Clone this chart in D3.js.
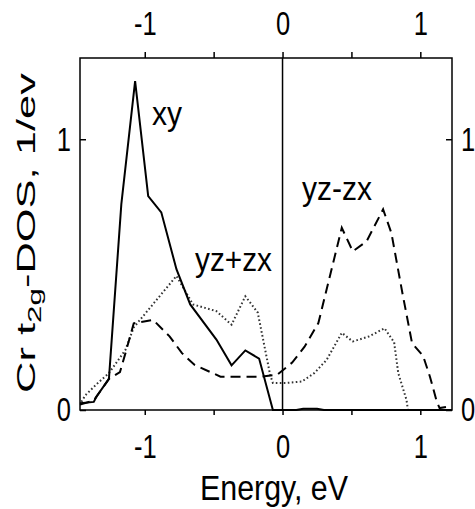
<!DOCTYPE html>
<html>
<head>
<meta charset="utf-8">
<script src="https://cdn.jsdelivr.net/npm/d3@7"></script>
<style>
	body { margin: 0; background: #fff; }
	text { font-family: 'Liberation Sans', Arial, sans-serif; fill: #000; }
</style>
</head>
<body>
<script>
// Chart size
const width = 475
const height = 509

// xy (solid)
const xyEnergy = [-1.47, -1.37, -1.35, -1.26, -1.17, -1.07, -0.975, -0.88, -0.77, -0.67, -0.48, -0.37, -0.27, -0.17, -0.07, 0.1, 0.15, 0.25, 0.3, 1.23]
const xyDos = [0.025, 0.03, 0.05, 0.115, 0.76, 1.215, 0.79, 0.73, 0.52, 0.39, 0.26, 0.165, 0.22, 0.19, 0, 0, 0.005, 0.005, 0, 0]

// yz+zx (dotted)
const plusEnergy = [-1.46, -1.43, -1.34, -1.26, -1.14, -1.08, -0.77, -0.65, -0.48, -0.37, -0.27, -0.18, -0.09, -0.07, 0.03, 0.14, 0.23, 0.32, 0.43, 0.51, 0.63, 0.74, 0.81, 0.84, 0.9, 0.91, 1.15]
const plusDos = [0.03, 0.055, 0.1, 0.136, 0.222, 0.305, 0.495, 0.39, 0.365, 0.315, 0.42, 0.36, 0.13, 0.1, 0.1, 0.105, 0.136, 0.185, 0.285, 0.253, 0.272, 0.302, 0.25, 0.136, 0.037, 0, 0]

// yz-zx (dashed)
const minusEnergy = [-1.47, -1.37, -1.26, -1.18, -1.14, -1.08, -0.94, -0.82, -0.73, -0.64, -0.45, -0.16, -0.04, 0.07, 0.16, 0.26, 0.43, 0.51, 0.61, 0.73, 0.79, 0.87, 0.94, 1.02, 1.07, 1.12, 1.14, 1.2, 1.23]
const minusDos = [0.02, 0.035, 0.115, 0.14, 0.21, 0.32, 0.333, 0.272, 0.21, 0.167, 0.123, 0.123, 0.13, 0.175, 0.234, 0.321, 0.673, 0.586, 0.623, 0.741, 0.654, 0.432, 0.247, 0.2, 0.123, 0.03, 0.007, 0.012, 0.012]

// Ticks
const xTicks = [-1, -0.5, 0, 0.5, 1]
const yTicks = [0, 1]

const svg = d3.select('body').append('svg').attr('width', width).attr('height', height)

const x = d3.scaleLinear().domain([-1.47, 1.23]).range([80, 452])
const y = d3.scaleLinear().domain([0, 1.3]).range([410, 58])

const fmt = d => (d % 1 === 0 ? String(d) : '')

// Axes
function styleAxis(g) {
	g.select('.domain').remove()
	g.selectAll('line').attr('stroke', '#000').attr('stroke-width', 1.5)
	g.selectAll('text')
		.attr('font-size', 34)
		.attr('font-family', "'Liberation Sans', Arial, sans-serif")
		.attr('transform', 'scale(0.75,1)')
}

svg.append('g')
	.attr('transform', 'translate(0,410)')
	.call(d3.axisBottom(x).tickValues(xTicks).tickFormat(fmt).tickSize(5).tickPadding(19))
	.call(styleAxis)

svg.append('g')
	.attr('transform', 'translate(0,58)')
	.call(d3.axisTop(x).tickValues(xTicks).tickFormat(fmt).tickSize(6).tickPadding(17))
	.call(styleAxis)

svg.append('g')
	.attr('transform', 'translate(80,0)')
	.call(d3.axisLeft(y).tickValues(yTicks).tickFormat(fmt).tickSize(-6).tickPadding(12))
	.call(styleAxis)

svg.append('g')
	.attr('transform', 'translate(452,0)')
	.call(d3.axisRight(y).tickValues(yTicks).tickFormat(fmt).tickSize(-6).tickPadding(12))
	.call(styleAxis)

// Frame and zero line
svg.append('rect')
	.attr('x', x.range()[0])
	.attr('y', y.range()[1])
	.attr('width', x.range()[1] - x.range()[0])
	.attr('height', y.range()[0] - y.range()[1])
	.attr('fill', 'none')
	.attr('stroke', '#000')
	.attr('stroke-width', 1.5)

svg.append('line')
	.attr('x1', x(0)).attr('x2', x(0))
	.attr('y1', y.range()[1]).attr('y2', y.range()[0])
	.attr('stroke', '#000')
	.attr('stroke-width', 1.5)

// Curves
const line = d3.line().x(d => x(d[0])).y(d => y(d[1]))

function drawCurve(energy, dos, dash, color) {
	svg.append('path')
		.datum(energy.map((e, i) => [e, dos[i]]))
		.attr('d', line)
		.attr('fill', 'none')
		.attr('stroke', color)
		.attr('stroke-width', 2)
		.attr('stroke-dasharray', dash)
}

drawCurve(plusEnergy, plusDos, '1.6,2.4', '#333')
drawCurve(minusEnergy, minusDos, '10,6', '#000')
drawCurve(xyEnergy, xyDos, null, '#000')

// Curve labels
svg.append('text').attr('x', 152).attr('y', 125).attr('font-size', 34)
	.attr('textLength', 30).attr('lengthAdjust', 'spacingAndGlyphs').text('xy')
svg.append('text').attr('x', 195).attr('y', 271).attr('font-size', 34)
	.attr('textLength', 77).attr('lengthAdjust', 'spacingAndGlyphs').text('yz+zx')
svg.append('text').attr('x', 302).attr('y', 200).attr('font-size', 34)
	.attr('textLength', 70).attr('lengthAdjust', 'spacingAndGlyphs').text('yz-zx')

// Axis titles
svg.append('text').attr('x', 200).attr('y', 500).attr('font-size', 35)
	.attr('textLength', 148).attr('lengthAdjust', 'spacingAndGlyphs').text('Energy, eV')

const ylab = svg.append('text')
	.attr('transform', 'translate(35,393) rotate(-90) scale(1.74,1)')
	.attr('font-size', 25)
ylab.append('tspan').text('Cr t')
ylab.append('tspan').attr('font-size', 18).attr('dy', 6).text('2g')
ylab.append('tspan').attr('dy', -6).text('-DOS, 1/ev')
</script>
</body>
</html>
